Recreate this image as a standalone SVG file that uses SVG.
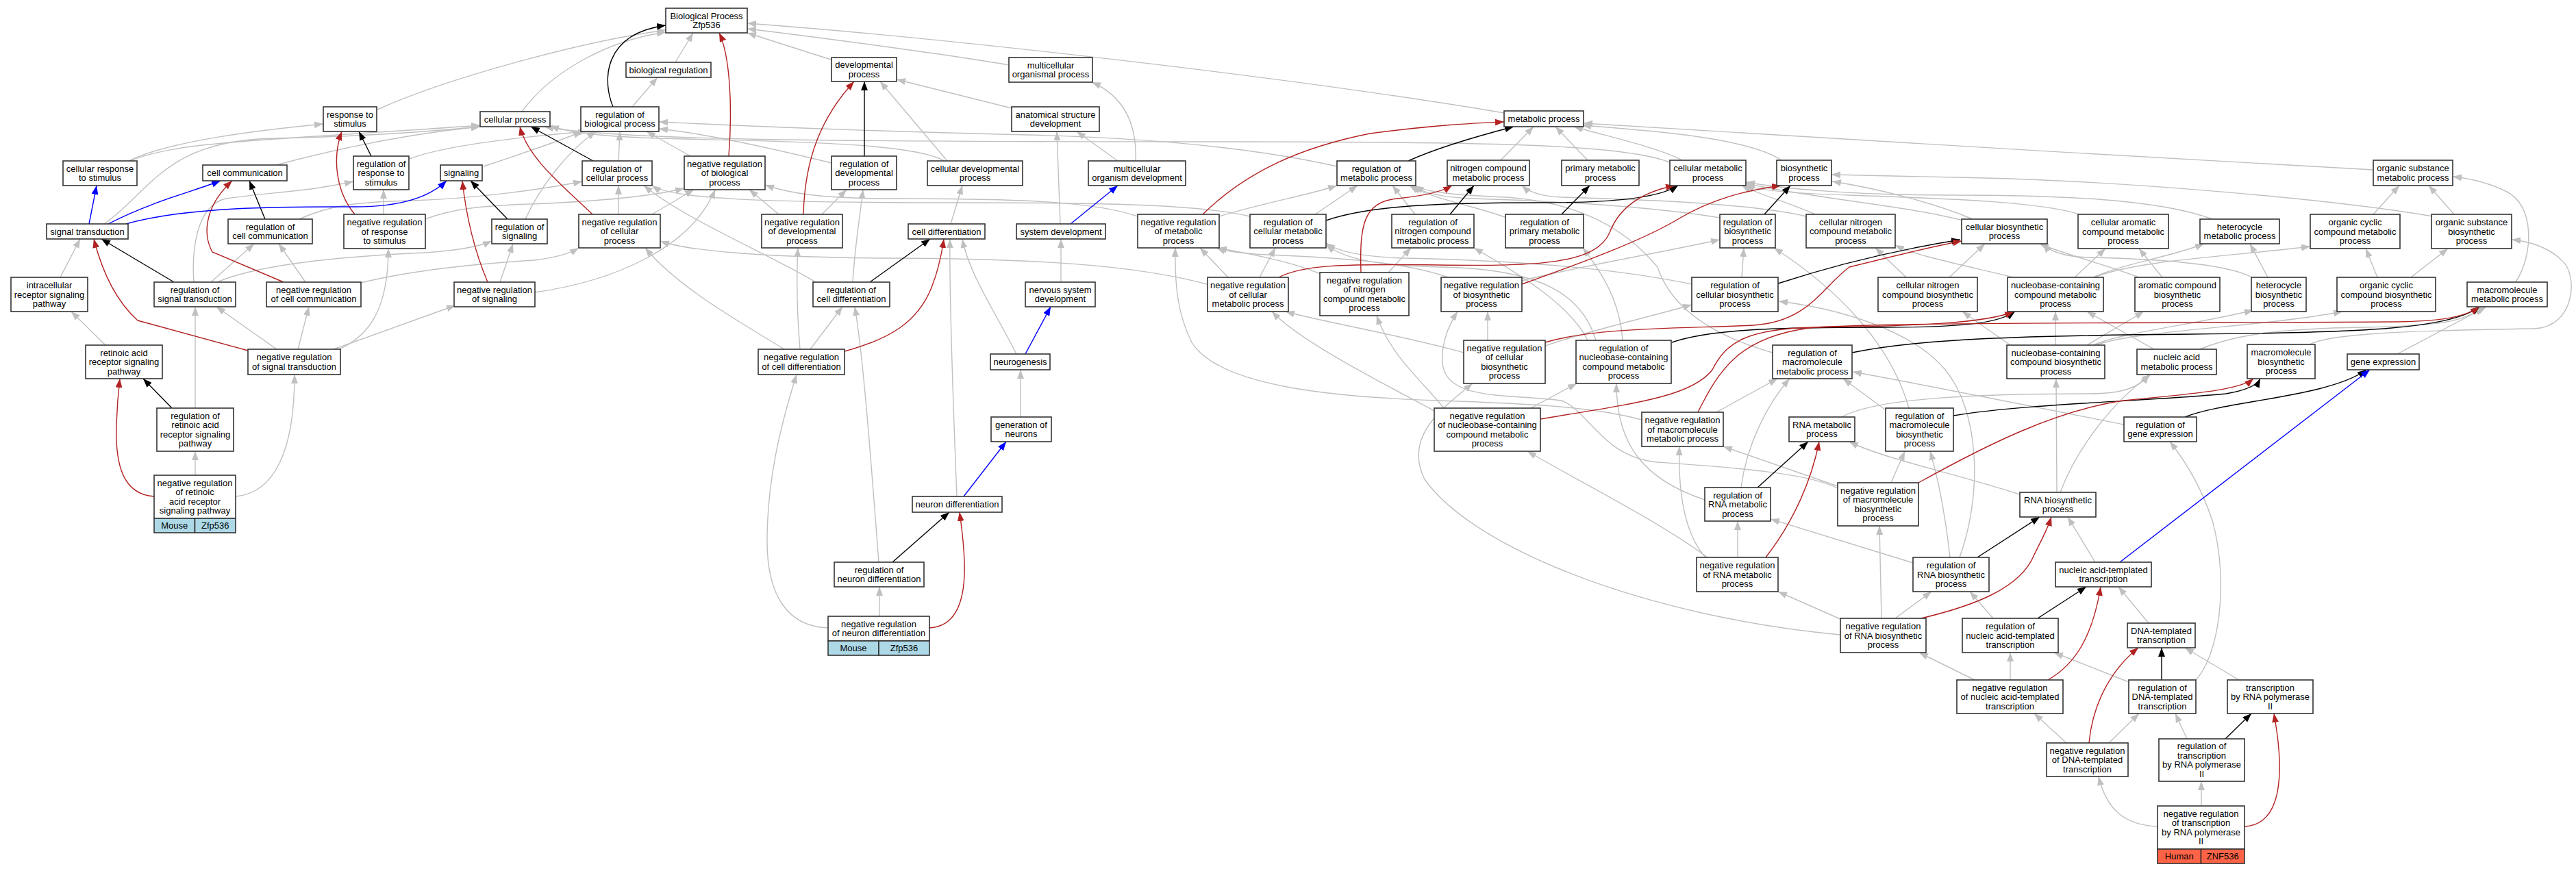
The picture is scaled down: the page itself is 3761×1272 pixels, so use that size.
<svg xmlns="http://www.w3.org/2000/svg" width="3761" height="1272" viewBox="0 0 3761 1272">
<style>
.n{fill:#fff;stroke:#333;stroke-width:1.6}
.m{fill:#add8e6;stroke:#333;stroke-width:1.6}
.h{fill:#ff6347;stroke:#333;stroke-width:1.6}
text{font-family:"Liberation Sans",Arial,Helvetica,sans-serif;font-size:13px;text-anchor:middle;fill:#000}
.e path{fill:none;stroke-width:1.4}
.e .g{stroke:#c0c0c0;marker-end:url(#ag)}
.e .k{stroke:#000;marker-end:url(#ak)}
.e .r{stroke:#b22222;marker-end:url(#ar)}
.e .b{stroke:#0000ff;marker-end:url(#ab)}
</style>
<defs>
<marker id="ag" viewBox="0 0 13 10" refX="13" refY="5" markerWidth="13" markerHeight="10" markerUnits="userSpaceOnUse" orient="auto"><path d="M0,0L13,5L0,10z" fill="#c0c0c0"/></marker>
<marker id="ak" viewBox="0 0 13 10" refX="13" refY="5" markerWidth="13" markerHeight="10" markerUnits="userSpaceOnUse" orient="auto"><path d="M0,0L13,5L0,10z" fill="#000"/></marker>
<marker id="ar" viewBox="0 0 13 10" refX="13" refY="5" markerWidth="13" markerHeight="10" markerUnits="userSpaceOnUse" orient="auto"><path d="M0,0L13,5L0,10z" fill="#b22222"/></marker>
<marker id="ab" viewBox="0 0 13 10" refX="13" refY="5" markerWidth="13" markerHeight="10" markerUnits="userSpaceOnUse" orient="auto"><path d="M0,0L13,5L0,10z" fill="#0000ff"/></marker>
</defs>
<rect x="0" y="0" width="3761" height="1272" fill="#fff"/>
<g id="edges" class="e">
<path class="g" d="M986,91 L1012,48"/>
<path class="g" d="M1213,87 L1091,48"/>
<path class="g" d="M1473,95 C1400,82 1200,55 1091,42"/>
<path class="g" d="M2196,165 C1900,115 1400,57 1091,34"/>
<path class="g" d="M551,160 C650,115 850,60 972,44"/>
<path class="g" d="M762,163 C800,110 880,60 972,47"/>
<path class="g" d="M923,156 L960,113"/>
<path class="g" d="M706,243 C760,225 820,205 850,192"/>
<path class="g" d="M903,235 L905,192"/>
<path class="g" d="M1008,228 L944,192"/>
<path class="g" d="M903,313 L903,271"/>
<path class="g" d="M952,313 L1013,277"/>
<path class="g" d="M1137,313 L1094,277"/>
<path class="g" d="M1200,313 L1236,277"/>
<path class="g" d="M1214,238 C1120,215 1030,195 962,188"/>
<path class="g" d="M1383,235 L1285,119"/>
<path class="g" d="M1379,235 C1340,212 1200,207 1000,203 C900,201 840,196 803,184"/>
<path class="g" d="M188,235 C250,205 380,190 472,181"/>
<path class="g" d="M190,235 C260,205 400,205 701,183"/>
<path class="g" d="M152,327 C220,280 240,205 400,202 C550,199 650,190 701,185"/>
<path class="g" d="M403,241 C500,215 600,195 701,185"/>
<path class="g" d="M598,232 C650,212 760,200 857,192"/>
<path class="g" d="M437,320 C480,300 520,295 600,293 C700,290 800,275 850,265"/>
<path class="g" d="M560,313 L560,277"/>
<path class="g" d="M621,320 C660,305 700,300 800,297 C900,292 960,285 999,275"/>
<path class="g" d="M446,412 L407,356"/>
<path class="g" d="M527,413 C600,395 700,385 780,380 C820,375 835,368 845,362"/>
<path class="g" d="M308,412 L371,356"/>
<path class="g" d="M283,412 C280,370 285,300 330,290 C400,280 450,280 516,265"/>
<path class="g" d="M317,412 C380,385 500,375 600,370 C660,368 700,360 718,352"/>
<path class="g" d="M404,510 L316,448"/>
<path class="g" d="M435,510 L451,448"/>
<path class="g" d="M487,510 L665,446"/>
<path class="g" d="M495,510 C540,490 567,450 567,363"/>
<path class="g" d="M730,412 L749,356"/>
<path class="g" d="M781,427 C900,410 1010,360 1044,277"/>
<path class="g" d="M767,320 C790,270 830,220 870,192"/>
<path class="g" d="M88,405 L117,349"/>
<path class="g" d="M154,504 L104,455"/>
<path class="g" d="M285,596 L285,448"/>
<path class="g" d="M285,694 L285,659"/>
<path class="g" d="M344,725 C400,720 430,660 430,547"/>
<path class="g" d="M1245,412 C1248,360 1255,320 1260,277"/>
<path class="g" d="M1191,412 C1120,370 1000,320 940,271"/>
<path class="g" d="M1183,510 L1230,448"/>
<path class="g" d="M1168,510 C1163,450 1163,400 1165,362"/>
<path class="g" d="M1145,510 C1080,470 990,420 942,362"/>
<path class="g" d="M1397,725 C1390,550 1386,420 1387,349"/>
<path class="g" d="M1283,821 C1270,650 1260,520 1248,448"/>
<path class="g" d="M1284,900 L1284,857"/>
<path class="g" d="M1209,917 C1150,915 1120,870 1120,790 C1120,700 1140,620 1163,547"/>
<path class="g" d="M1490,609 L1490,540"/>
<path class="g" d="M1484,517 C1450,450 1415,400 1405,349"/>
<path class="g" d="M1549,412 L1549,349"/>
<path class="g" d="M1548,327 L1543,192"/>
<path class="g" d="M1632,235 L1572,192"/>
<path class="g" d="M1658,235 C1660,180 1640,140 1594,120"/>
<path class="g" d="M1477,158 L1309,116"/>
<path class="g" d="M1388,327 L1405,271"/>
<path class="g" d="M2191,234 L2239,185"/>
<path class="g" d="M2318,234 L2271,185"/>
<path class="g" d="M2456,234 C2420,215 2350,200 2298,185"/>
<path class="g" d="M2601,234 C2550,200 2400,190 2310,183"/>
<path class="g" d="M3465,248 C3100,230 2600,195 2312,180"/>
<path class="g" d="M2440,238 C2380,212 2200,207 1800,207 C1200,207 900,205 795,185"/>
<path class="g" d="M1952,243 C1850,220 1700,202 1500,197 C1200,190 1050,182 962,178"/>
<path class="g" d="M1780,316 C1850,295 1910,285 1952,271"/>
<path class="g" d="M1661,316 C1600,295 1500,290 1300,290 C1200,290 1150,282 1117,270"/>
<path class="g" d="M1920,313 L1982,271"/>
<path class="g" d="M1825,316 C1750,298 1600,296 1400,296 C1100,296 980,290 952,271"/>
<path class="g" d="M2066,313 L2033,271"/>
<path class="g" d="M2027,398 L2060,362"/>
<path class="g" d="M1928,400 C1880,380 1820,370 1778,362"/>
<path class="g" d="M1793,405 L1752,362"/>
<path class="g" d="M1839,405 L1862,362"/>
<path class="g" d="M1762,415 C1650,385 1500,378 1300,377 C1100,376 1000,365 964,352"/>
<path class="g" d="M2222,410 C2300,390 2420,370 2511,350"/>
<path class="g" d="M2114,405 C2050,382 1950,376 1850,372 C1810,370 1790,367 1776,362"/>
<path class="g" d="M2511,318 C2400,300 2250,293 2150,290 C2100,288 2075,280 2062,271"/>
<path class="g" d="M2200,318 C2150,300 2090,290 2058,271"/>
<path class="g" d="M2637,316 C2550,295 2350,290 2280,288 C2250,287 2232,280 2222,271"/>
<path class="g" d="M2650,313 C2610,295 2570,285 2543,271"/>
<path class="g" d="M2880,320 C2820,295 2740,275 2675,265"/>
<path class="g" d="M2866,322 C2780,300 2650,290 2549,268"/>
<path class="g" d="M2783,405 L2738,362"/>
<path class="g" d="M2846,405 L2898,356"/>
<path class="g" d="M2940,405 C2880,390 2800,375 2767,358"/>
<path class="g" d="M3029,405 L3074,363"/>
<path class="g" d="M3056,405 C3100,385 3170,375 3218,356"/>
<path class="g" d="M3058,405 C3120,380 3250,375 3373,360"/>
<path class="g" d="M3157,405 L3123,363"/>
<path class="g" d="M3123,405 C3070,385 3010,370 2978,356"/>
<path class="g" d="M3311,405 L3285,356"/>
<path class="g" d="M3288,405 C3250,385 3150,378 3050,376 C3010,375 2990,365 2983,356"/>
<path class="g" d="M3471,405 L3454,363"/>
<path class="g" d="M3520,405 L3574,363"/>
<path class="g" d="M3465,313 L3503,271"/>
<path class="g" d="M3583,313 L3546,271"/>
<path class="g" d="M3552,316 C3400,290 3100,265 2900,260 C2800,258 2720,256 2674,255"/>
<path class="g" d="M3036,313 C2980,295 2850,290 2700,285 C2600,282 2560,276 2549,270"/>
<path class="g" d="M3230,320 C3150,290 3000,285 2850,285 C2700,285 2600,275 2549,266"/>
<path class="g" d="M3673,412 C3700,370 3700,300 3660,280 C3630,265 3600,260 3581,258"/>
<path class="g" d="M3145,510 L3047,455"/>
<path class="g" d="M3212,510 C3260,490 3320,480 3450,478 C3560,476 3600,470 3625,448"/>
<path class="g" d="M3500,517 L3630,448"/>
<path class="g" d="M3372,503 C3400,488 3500,483 3700,480 C3760,478 3765,400 3740,380 C3720,360 3690,352 3667,350"/>
<path class="g" d="M3001,504 L3001,455"/>
<path class="g" d="M3047,504 L3130,455"/>
<path class="g" d="M3056,504 C3100,485 3200,475 3290,453"/>
<path class="g" d="M3060,504 C3120,482 3300,478 3420,455"/>
<path class="g" d="M2935,504 L2865,455"/>
<path class="g" d="M2689,609 C2740,580 2900,575 3050,575 C3100,575 3125,565 3137,547"/>
<path class="g" d="M3008,719 C3030,660 3080,590 3140,547"/>
<path class="g" d="M2949,722 C2850,690 2750,670 2700,645"/>
<path class="g" d="M3003,719 L3002,553"/>
<path class="g" d="M3101,620 C3000,600 2800,560 2705,543"/>
<path class="g" d="M2752,598 L2691,553"/>
<path class="g" d="M2787,596 C2760,500 2680,420 2590,362"/>
<path class="g" d="M2761,705 L2781,659"/>
<path class="g" d="M2683,710 L2516,652"/>
<path class="g" d="M2683,713 C2640,690 2520,682 2420,675 C2340,668 2320,600 2280,585 C2200,575 2110,585 2106,530 C2104,500 2115,475 2128,455"/>
<path class="g" d="M2542,712 C2550,650 2580,590 2613,553"/>
<path class="g" d="M2489,730 C2400,700 2360,650 2360,560"/>
<path class="g" d="M2537,814 L2537,761"/>
<path class="g" d="M2493,814 C2420,760 2300,700 2230,659"/>
<path class="g" d="M2490,814 C2460,780 2450,720 2452,652"/>
<path class="g" d="M2767,903 L2820,864"/>
<path class="g" d="M2747,903 L2744,768"/>
<path class="g" d="M2689,905 L2596,864"/>
<path class="g" d="M2687,927 C2400,900 2150,800 2080,700 C2050,640 2100,600 2150,560"/>
<path class="g" d="M2847,814 C2840,750 2830,700 2818,659"/>
<path class="g" d="M2793,822 L2585,758"/>
<path class="g" d="M2861,814 C2895,720 2890,600 2840,540 C2790,480 2680,450 2597,440"/>
<path class="g" d="M3059,821 L3019,755"/>
<path class="g" d="M2910,903 L2876,864"/>
<path class="g" d="M3137,910 L3093,857"/>
<path class="g" d="M2935,993 L2935,953"/>
<path class="g" d="M2883,993 L2802,953"/>
<path class="g" d="M3108,996 L2999,953"/>
<path class="g" d="M3204,995 C3240,960 3255,850 3230,760 C3210,700 3180,660 3168,645"/>
<path class="g" d="M3269,993 L3190,946"/>
<path class="g" d="M3017,1085 L2970,1042"/>
<path class="g" d="M3079,1085 L3123,1042"/>
<path class="g" d="M3193,1079 L3176,1042"/>
<path class="g" d="M3214,1177 L3214,1141"/>
<path class="g" d="M3150,1207 C3100,1205 3075,1180 3064,1134"/>
<path class="g" d="M2318,497 C2290,440 2200,390 2152,362"/>
<path class="g" d="M2369,497 C2365,440 2340,400 2311,362"/>
<path class="g" d="M2330,497 C2310,430 2250,392 2100,390 C2000,388 1960,375 1936,358"/>
<path class="g" d="M2543,405 L2546,362"/>
<path class="g" d="M2470,415 C2350,390 2200,380 2050,377 C1980,375 1950,365 1936,355"/>
<path class="g" d="M2172,497 L2172,455"/>
<path class="g" d="M2256,505 C2330,480 2420,460 2470,445"/>
<path class="g" d="M2137,515 C2050,490 1930,470 1877,455"/>
<path class="g" d="M2235,596 L2302,560"/>
<path class="g" d="M2108,596 C2080,560 2030,520 2010,461"/>
<path class="g" d="M2094,600 C2020,560 1900,500 1857,455"/>
<path class="g" d="M2506,602 L2595,553"/>
<path class="g" d="M2397,613 C2330,595 2250,590 2100,585 C1950,580 1780,565 1740,500 C1720,460 1715,420 1716,362"/>
<path class="g" d="M2588,515 C2500,490 2440,450 2420,390 C2370,330 2300,295 2200,288 C2120,285 2080,280 2066,271"/>
<path class="k" d="M895,156 C880,120 878,50 972,37"/>
<path class="k" d="M866,235 L775,185"/>
<path class="k" d="M1262,228 L1262,119"/>
<path class="k" d="M542,228 L524,192"/>
<path class="k" d="M387,320 L364,264"/>
<path class="k" d="M741,320 L687,264"/>
<path class="k" d="M254,412 L148,349"/>
<path class="k" d="M251,596 L209,553"/>
<path class="k" d="M1270,412 L1358,349"/>
<path class="k" d="M1303,821 L1386,748"/>
<path class="k" d="M2056,235 C2100,215 2160,198 2210,185"/>
<path class="k" d="M1936,322 C2000,300 2100,296 2250,296 C2350,296 2420,290 2450,271"/>
<path class="k" d="M2117,313 L2152,271"/>
<path class="k" d="M2280,313 L2321,271"/>
<path class="k" d="M2576,313 L2614,271"/>
<path class="k" d="M2596,414 C2700,380 2800,360 2862,350"/>
<path class="k" d="M2441,500 C2500,480 2600,478 2750,478 C2880,478 2920,470 2942,455"/>
<path class="k" d="M2704,515 C2800,495 2950,490 3200,488 C3450,486 3580,480 3620,448"/>
<path class="k" d="M2852,607 C2950,590 3150,585 3250,575 C3280,570 3295,563 3300,553"/>
<path class="k" d="M3190,609 C3250,585 3400,580 3455,540"/>
<path class="k" d="M2566,712 L2640,645"/>
<path class="k" d="M2887,814 L2978,755"/>
<path class="k" d="M2975,903 L3046,857"/>
<path class="k" d="M3156,993 L3156,946"/>
<path class="k" d="M3249,1079 L3287,1042"/>
<path class="r" d="M1064,228 C1070,150 1065,80 1050,48"/>
<path class="r" d="M865,313 C820,270 770,230 759,185"/>
<path class="r" d="M1173,313 C1175,230 1200,170 1247,119"/>
<path class="r" d="M518,313 C490,280 485,230 499,192"/>
<path class="r" d="M414,412 L310,368 C295,340 300,300 339,264"/>
<path class="r" d="M712,412 C690,360 680,310 675,264"/>
<path class="r" d="M362,512 L201,468 C170,440 150,400 137,349"/>
<path class="r" d="M225,725 C180,722 168,680 170,620 C171,590 173,570 175,553"/>
<path class="r" d="M1233,513 C1300,495 1340,470 1360,420 C1370,395 1375,370 1378,349"/>
<path class="r" d="M1357,917 C1395,915 1410,880 1408,820 C1407,790 1404,770 1401,748"/>
<path class="r" d="M1756,313 C1820,250 1900,215 2000,195 C2100,182 2150,180 2196,178"/>
<path class="r" d="M1867,405 C1900,388 1950,385 2100,387 C2250,389 2330,385 2350,340 C2365,300 2400,280 2445,271"/>
<path class="r" d="M1987,398 C1985,330 1990,295 2040,290 C2080,286 2105,280 2120,271"/>
<path class="r" d="M2222,415 C2320,380 2400,350 2450,320 C2500,290 2550,278 2600,271"/>
<path class="r" d="M2256,500 C2330,478 2450,480 2560,475 C2640,470 2660,420 2700,390 C2760,375 2820,360 2864,352"/>
<path class="r" d="M2249,612 C2380,590 2470,580 2500,540 C2520,500 2550,480 2650,478 C2800,476 2900,472 2940,455"/>
<path class="r" d="M2479,602 C2510,540 2540,490 2650,478 C2800,470 3200,472 3500,470 C3570,469 3600,462 3620,448"/>
<path class="r" d="M2801,705 C2900,650 3000,600 3100,585 C3200,575 3270,570 3290,553"/>
<path class="r" d="M2578,814 C2620,760 2645,700 2656,645"/>
<path class="r" d="M2805,903 C2880,885 2950,860 2970,810 C2985,780 2990,770 2995,755"/>
<path class="r" d="M2990,993 C3030,970 3055,930 3067,857"/>
<path class="r" d="M3050,1085 C3055,1030 3080,980 3122,946"/>
<path class="r" d="M3277,1207 C3315,1205 3330,1170 3328,1110 C3327,1080 3323,1060 3320,1042"/>
<path class="b" d="M130,327 L141,271"/>
<path class="b" d="M158,327 C220,295 280,280 322,264"/>
<path class="b" d="M184,327 C280,300 430,302 520,302 C590,302 630,285 652,264"/>
<path class="b" d="M1563,327 L1632,271"/>
<path class="b" d="M1497,517 L1534,448"/>
<path class="b" d="M1407,725 L1469,645"/>
<path class="b" d="M3095,821 L3460,540"/>
</g>
<g id="n01"><rect class="n" x="972" y="12" width="119" height="36"/><text x="1031.5" y="27.75">Biological Process<tspan x="1031.5" dy="13.5">Zfp536</tspan></text></g>
<g id="n02"><rect class="n" x="914" y="91" width="124" height="22"/><text x="976" y="106.5">biological regulation</text></g>
<g id="n03"><rect class="n" x="1214" y="84" width="95" height="35"/><text x="1261.5" y="99.25">developmental<tspan x="1261.5" dy="13.5">process</tspan></text></g>
<g id="n04"><rect class="n" x="1473" y="84" width="122" height="36"/><text x="1534" y="99.75">multicellular<tspan x="1534" dy="13.5">organismal process</tspan></text></g>
<g id="n05"><rect class="n" x="2196" y="162" width="116" height="23"/><text x="2254" y="178">metabolic process</text></g>
<g id="n06"><rect class="n" x="472" y="156" width="78" height="36"/><text x="511" y="171.75">response to<tspan x="511" dy="13.5">stimulus</tspan></text></g>
<g id="n07"><rect class="n" x="701" y="163" width="102" height="22"/><text x="752" y="178.5">cellular process</text></g>
<g id="n08"><rect class="n" x="848" y="156" width="114" height="36"/><text x="905" y="171.75">regulation of<tspan x="905" dy="13.5">biological process</tspan></text></g>
<g id="n09"><rect class="n" x="1477" y="156" width="128" height="36"/><text x="1541" y="171.75">anatomical structure<tspan x="1541" dy="13.5">development</tspan></text></g>
<g id="n10"><rect class="n" x="92" y="235" width="108" height="36"/><text x="146" y="250.75">cellular response<tspan x="146" dy="13.5">to stimulus</tspan></text></g>
<g id="n11"><rect class="n" x="296" y="241" width="123" height="23"/><text x="357.5" y="257">cell communication</text></g>
<g id="n12"><rect class="n" x="516" y="228" width="81" height="49"/><text x="556.5" y="243.5">regulation of<tspan x="556.5" dy="13.5">response to</tspan><tspan x="556.5" dy="13.5">stimulus</tspan></text></g>
<g id="n13"><rect class="n" x="643" y="241" width="61" height="23"/><text x="673.5" y="257">signaling</text></g>
<g id="n14"><rect class="n" x="850" y="235" width="102" height="36"/><text x="901" y="250.75">regulation of<tspan x="901" dy="13.5">cellular process</tspan></text></g>
<g id="n15"><rect class="n" x="999" y="228" width="118" height="49"/><text x="1058" y="243.5">negative regulation<tspan x="1058" dy="13.5">of biological</tspan><tspan x="1058" dy="13.5">process</tspan></text></g>
<g id="n16"><rect class="n" x="1214" y="228" width="95" height="49"/><text x="1261.5" y="243.5">regulation of<tspan x="1261.5" dy="13.5">developmental</tspan><tspan x="1261.5" dy="13.5">process</tspan></text></g>
<g id="n17"><rect class="n" x="1354" y="235" width="139" height="36"/><text x="1423.5" y="250.75">cellular developmental<tspan x="1423.5" dy="13.5">process</tspan></text></g>
<g id="n18"><rect class="n" x="1589" y="235" width="142" height="36"/><text x="1660" y="250.75">multicellular<tspan x="1660" dy="13.5">organism development</tspan></text></g>
<g id="n19"><rect class="n" x="1952" y="235" width="115" height="36"/><text x="2009.5" y="250.75">regulation of<tspan x="2009.5" dy="13.5">metabolic process</tspan></text></g>
<g id="n20"><rect class="n" x="2113" y="234" width="120" height="37"/><text x="2173" y="250.25">nitrogen compound<tspan x="2173" dy="13.5">metabolic process</tspan></text></g>
<g id="n21"><rect class="n" x="2280" y="234" width="113" height="37"/><text x="2336.5" y="250.25">primary metabolic<tspan x="2336.5" dy="13.5">process</tspan></text></g>
<g id="n22"><rect class="n" x="2438" y="234" width="111" height="37"/><text x="2493.5" y="250.25">cellular metabolic<tspan x="2493.5" dy="13.5">process</tspan></text></g>
<g id="n23"><rect class="n" x="2594" y="234" width="80" height="37"/><text x="2634" y="250.25">biosynthetic<tspan x="2634" dy="13.5">process</tspan></text></g>
<g id="n24"><rect class="n" x="3465" y="234" width="116" height="37"/><text x="3523" y="250.25">organic substance<tspan x="3523" dy="13.5">metabolic process</tspan></text></g>
<g id="n25"><rect class="n" x="68" y="327" width="119" height="22"/><text x="127.5" y="342.5">signal transduction</text></g>
<g id="n26"><rect class="n" x="333" y="320" width="123" height="36"/><text x="394.5" y="335.75">regulation of<tspan x="394.5" dy="13.5">cell communication</tspan></text></g>
<g id="n27"><rect class="n" x="502" y="313" width="119" height="50"/><text x="561.5" y="329">negative regulation<tspan x="561.5" dy="13.5">of response</tspan><tspan x="561.5" dy="13.5">to stimulus</tspan></text></g>
<g id="n28"><rect class="n" x="718" y="320" width="81" height="36"/><text x="758.5" y="335.75">regulation of<tspan x="758.5" dy="13.5">signaling</tspan></text></g>
<g id="n29"><rect class="n" x="845" y="313" width="119" height="49"/><text x="904.5" y="328.5">negative regulation<tspan x="904.5" dy="13.5">of cellular</tspan><tspan x="904.5" dy="13.5">process</tspan></text></g>
<g id="n30"><rect class="n" x="1112" y="313" width="118" height="49"/><text x="1171" y="328.5">negative regulation<tspan x="1171" dy="13.5">of developmental</tspan><tspan x="1171" dy="13.5">process</tspan></text></g>
<g id="n31"><rect class="n" x="1326" y="327" width="112" height="22"/><text x="1382" y="342.5">cell differentiation</text></g>
<g id="n32"><rect class="n" x="1484" y="327" width="130" height="22"/><text x="1549" y="342.5">system development</text></g>
<g id="n33"><rect class="n" x="1661" y="313" width="119" height="49"/><text x="1720.5" y="328.5">negative regulation<tspan x="1720.5" dy="13.5">of metabolic</tspan><tspan x="1720.5" dy="13.5">process</tspan></text></g>
<g id="n34"><rect class="n" x="1825" y="313" width="111" height="49"/><text x="1880.5" y="328.5">regulation of<tspan x="1880.5" dy="13.5">cellular metabolic</tspan><tspan x="1880.5" dy="13.5">process</tspan></text></g>
<g id="n35"><rect class="n" x="2032" y="313" width="120" height="49"/><text x="2092" y="328.5">regulation of<tspan x="2092" dy="13.5">nitrogen compound</tspan><tspan x="2092" dy="13.5">metabolic process</tspan></text></g>
<g id="n36"><rect class="n" x="2198" y="313" width="114" height="49"/><text x="2255" y="328.5">regulation of<tspan x="2255" dy="13.5">primary metabolic</tspan><tspan x="2255" dy="13.5">process</tspan></text></g>
<g id="n37"><rect class="n" x="2511" y="313" width="81" height="49"/><text x="2551.5" y="328.5">regulation of<tspan x="2551.5" dy="13.5">biosynthetic</tspan><tspan x="2551.5" dy="13.5">process</tspan></text></g>
<g id="n38"><rect class="n" x="2637" y="313" width="130" height="49"/><text x="2702" y="328.5">cellular nitrogen<tspan x="2702" dy="13.5">compound metabolic</tspan><tspan x="2702" dy="13.5">process</tspan></text></g>
<g id="n39"><rect class="n" x="2864" y="320" width="125" height="36"/><text x="2926.5" y="335.75">cellular biosynthetic<tspan x="2926.5" dy="13.5">process</tspan></text></g>
<g id="n40"><rect class="n" x="3034" y="313" width="132" height="50"/><text x="3100" y="329">cellular aromatic<tspan x="3100" dy="13.5">compound metabolic</tspan><tspan x="3100" dy="13.5">process</tspan></text></g>
<g id="n41"><rect class="n" x="3212" y="320" width="116" height="36"/><text x="3270" y="335.75">heterocycle<tspan x="3270" dy="13.5">metabolic process</tspan></text></g>
<g id="n42"><rect class="n" x="3373" y="313" width="131" height="50"/><text x="3438.5" y="329">organic cyclic<tspan x="3438.5" dy="13.5">compound metabolic</tspan><tspan x="3438.5" dy="13.5">process</tspan></text></g>
<g id="n43"><rect class="n" x="3550" y="313" width="117" height="50"/><text x="3608.5" y="329">organic substance<tspan x="3608.5" dy="13.5">biosynthetic</tspan><tspan x="3608.5" dy="13.5">process</tspan></text></g>
<g id="n44"><rect class="n" x="16" y="405" width="112" height="50"/><text x="72" y="421">intracellular<tspan x="72" dy="13.5">receptor signaling</tspan><tspan x="72" dy="13.5">pathway</tspan></text></g>
<g id="n45"><rect class="n" x="225" y="412" width="119" height="36"/><text x="284.5" y="427.75">regulation of<tspan x="284.5" dy="13.5">signal transduction</tspan></text></g>
<g id="n46"><rect class="n" x="389" y="412" width="138" height="36"/><text x="458" y="427.75">negative regulation<tspan x="458" dy="13.5">of cell communication</tspan></text></g>
<g id="n47"><rect class="n" x="663" y="412" width="118" height="36"/><text x="722" y="427.75">negative regulation<tspan x="722" dy="13.5">of signaling</tspan></text></g>
<g id="n48"><rect class="n" x="1187" y="412" width="112" height="36"/><text x="1243" y="427.75">regulation of<tspan x="1243" dy="13.5">cell differentiation</tspan></text></g>
<g id="n49"><rect class="n" x="1497" y="412" width="102" height="36"/><text x="1548" y="427.75">nervous system<tspan x="1548" dy="13.5">development</tspan></text></g>
<g id="n50"><rect class="n" x="1763" y="405" width="118" height="50"/><text x="1822" y="421">negative regulation<tspan x="1822" dy="13.5">of cellular</tspan><tspan x="1822" dy="13.5">metabolic process</tspan></text></g>
<g id="n51"><rect class="n" x="1927" y="398" width="130" height="63"/><text x="1992" y="413.75">negative regulation<tspan x="1992" dy="13.5">of nitrogen</tspan><tspan x="1992" dy="13.5">compound metabolic</tspan><tspan x="1992" dy="13.5">process</tspan></text></g>
<g id="n52"><rect class="n" x="2104" y="405" width="118" height="50"/><text x="2163" y="421">negative regulation<tspan x="2163" dy="13.5">of biosynthetic</tspan><tspan x="2163" dy="13.5">process</tspan></text></g>
<g id="n53"><rect class="n" x="2470" y="405" width="126" height="50"/><text x="2533" y="421">regulation of<tspan x="2533" dy="13.5">cellular biosynthetic</tspan><tspan x="2533" dy="13.5">process</tspan></text></g>
<g id="n54"><rect class="n" x="2742" y="405" width="145" height="50"/><text x="2814.5" y="421">cellular nitrogen<tspan x="2814.5" dy="13.5">compound biosynthetic</tspan><tspan x="2814.5" dy="13.5">process</tspan></text></g>
<g id="n55"><rect class="n" x="2931" y="405" width="140" height="50"/><text x="3001" y="421">nucleobase-containing<tspan x="3001" dy="13.5">compound metabolic</tspan><tspan x="3001" dy="13.5">process</tspan></text></g>
<g id="n56"><rect class="n" x="3117" y="405" width="124" height="50"/><text x="3179" y="421">aromatic compound<tspan x="3179" dy="13.5">biosynthetic</tspan><tspan x="3179" dy="13.5">process</tspan></text></g>
<g id="n57"><rect class="n" x="3287" y="405" width="80" height="50"/><text x="3327" y="421">heterocycle<tspan x="3327" dy="13.5">biosynthetic</tspan><tspan x="3327" dy="13.5">process</tspan></text></g>
<g id="n58"><rect class="n" x="3412" y="405" width="144" height="50"/><text x="3484" y="421">organic cyclic<tspan x="3484" dy="13.5">compound biosynthetic</tspan><tspan x="3484" dy="13.5">process</tspan></text></g>
<g id="n59"><rect class="n" x="3602" y="412" width="117" height="36"/><text x="3660.5" y="427.75">macromolecule<tspan x="3660.5" dy="13.5">metabolic process</tspan></text></g>
<g id="n60"><rect class="n" x="125" y="504" width="112" height="49"/><text x="181" y="519.5">retinoic acid<tspan x="181" dy="13.5">receptor signaling</tspan><tspan x="181" dy="13.5">pathway</tspan></text></g>
<g id="n61"><rect class="n" x="362" y="510" width="135" height="37"/><text x="429.5" y="526.25">negative regulation<tspan x="429.5" dy="13.5">of signal transduction</tspan></text></g>
<g id="n62"><rect class="n" x="1107" y="510" width="126" height="37"/><text x="1170" y="526.25">negative regulation<tspan x="1170" dy="13.5">of cell differentiation</tspan></text></g>
<g id="n63"><rect class="n" x="1446" y="517" width="87" height="23"/><text x="1489.5" y="533">neurogenesis</text></g>
<g id="n64"><rect class="n" x="2137" y="497" width="119" height="63"/><text x="2196.5" y="512.75">negative regulation<tspan x="2196.5" dy="13.5">of cellular</tspan><tspan x="2196.5" dy="13.5">biosynthetic</tspan><tspan x="2196.5" dy="13.5">process</tspan></text></g>
<g id="n65"><rect class="n" x="2301" y="497" width="139" height="63"/><text x="2370.5" y="512.75">regulation of<tspan x="2370.5" dy="13.5">nucleobase-containing</tspan><tspan x="2370.5" dy="13.5">compound metabolic</tspan><tspan x="2370.5" dy="13.5">process</tspan></text></g>
<g id="n66"><rect class="n" x="2588" y="504" width="116" height="49"/><text x="2646" y="519.5">regulation of<tspan x="2646" dy="13.5">macromolecule</tspan><tspan x="2646" dy="13.5">metabolic process</tspan></text></g>
<g id="n67"><rect class="n" x="2930" y="504" width="143" height="49"/><text x="3001.5" y="519.5">nucleobase-containing<tspan x="3001.5" dy="13.5">compound biosynthetic</tspan><tspan x="3001.5" dy="13.5">process</tspan></text></g>
<g id="n68"><rect class="n" x="3120" y="510" width="116" height="37"/><text x="3178" y="526.25">nucleic acid<tspan x="3178" dy="13.5">metabolic process</tspan></text></g>
<g id="n69"><rect class="n" x="3281" y="503" width="99" height="50"/><text x="3330.5" y="519">macromolecule<tspan x="3330.5" dy="13.5">biosynthetic</tspan><tspan x="3330.5" dy="13.5">process</tspan></text></g>
<g id="n70"><rect class="n" x="3427" y="517" width="105" height="23"/><text x="3479.5" y="533">gene expression</text></g>
<g id="n71"><rect class="n" x="229" y="596" width="112" height="63"/><text x="285" y="611.75">regulation of<tspan x="285" dy="13.5">retinoic acid</tspan><tspan x="285" dy="13.5">receptor signaling</tspan><tspan x="285" dy="13.5">pathway</tspan></text></g>
<g id="n72"><rect class="n" x="1447" y="609" width="88" height="36"/><text x="1491" y="624.75">generation of<tspan x="1491" dy="13.5">neurons</tspan></text></g>
<g id="n73"><rect class="n" x="2094" y="596" width="155" height="63"/><text x="2171.5" y="611.75">negative regulation<tspan x="2171.5" dy="13.5">of nucleobase-containing</tspan><tspan x="2171.5" dy="13.5">compound metabolic</tspan><tspan x="2171.5" dy="13.5">process</tspan></text></g>
<g id="n74"><rect class="n" x="2397" y="602" width="119" height="50"/><text x="2456.5" y="618">negative regulation<tspan x="2456.5" dy="13.5">of macromolecule</tspan><tspan x="2456.5" dy="13.5">metabolic process</tspan></text></g>
<g id="n75"><rect class="n" x="2612" y="609" width="96" height="36"/><text x="2660" y="624.75">RNA metabolic<tspan x="2660" dy="13.5">process</tspan></text></g>
<g id="n76"><rect class="n" x="2753" y="596" width="99" height="63"/><text x="2802.5" y="611.75">regulation of<tspan x="2802.5" dy="13.5">macromolecule</tspan><tspan x="2802.5" dy="13.5">biosynthetic</tspan><tspan x="2802.5" dy="13.5">process</tspan></text></g>
<g id="n77"><rect class="n" x="3101" y="609" width="106" height="36"/><text x="3154" y="624.75">regulation of<tspan x="3154" dy="13.5">gene expression</tspan></text></g>
<g id="n78"><rect class="n" x="225" y="694" width="119" height="63"/><text x="284.5" y="709.75">negative regulation<tspan x="284.5" dy="13.5">of retinoic</tspan><tspan x="284.5" dy="13.5">acid receptor</tspan><tspan x="284.5" dy="13.5">signaling pathway</tspan></text><rect class="m" x="225" y="757" width="59.5" height="21"/><rect class="m" x="284.5" y="757" width="59.5" height="21"/><text x="254.75" y="772">Mouse</text><text x="314.25" y="772">Zfp536</text></g>
<g id="n79"><rect class="n" x="1332" y="725" width="131" height="23"/><text x="1397.5" y="741">neuron differentiation</text></g>
<g id="n80"><rect class="n" x="2489" y="712" width="96" height="49"/><text x="2537" y="727.5">regulation of<tspan x="2537" dy="13.5">RNA metabolic</tspan><tspan x="2537" dy="13.5">process</tspan></text></g>
<g id="n81"><rect class="n" x="2683" y="705" width="118" height="63"/><text x="2742" y="720.75">negative regulation<tspan x="2742" dy="13.5">of macromolecule</tspan><tspan x="2742" dy="13.5">biosynthetic</tspan><tspan x="2742" dy="13.5">process</tspan></text></g>
<g id="n82"><rect class="n" x="2949" y="719" width="111" height="36"/><text x="3004.5" y="734.75">RNA biosynthetic<tspan x="3004.5" dy="13.5">process</tspan></text></g>
<g id="n83"><rect class="n" x="1218" y="821" width="131" height="36"/><text x="1283.5" y="836.75">regulation of<tspan x="1283.5" dy="13.5">neuron differentiation</tspan></text></g>
<g id="n84"><rect class="n" x="2477" y="814" width="119" height="50"/><text x="2536.5" y="830">negative regulation<tspan x="2536.5" dy="13.5">of RNA metabolic</tspan><tspan x="2536.5" dy="13.5">process</tspan></text></g>
<g id="n85"><rect class="n" x="2793" y="814" width="111" height="50"/><text x="2848.5" y="830">regulation of<tspan x="2848.5" dy="13.5">RNA biosynthetic</tspan><tspan x="2848.5" dy="13.5">process</tspan></text></g>
<g id="n86"><rect class="n" x="3001" y="821" width="140" height="36"/><text x="3071" y="836.75">nucleic acid-templated<tspan x="3071" dy="13.5">transcription</tspan></text></g>
<g id="n87"><rect class="n" x="2687" y="903" width="125" height="50"/><text x="2749.5" y="919">negative regulation<tspan x="2749.5" dy="13.5">of RNA biosynthetic</tspan><tspan x="2749.5" dy="13.5">process</tspan></text></g>
<g id="n88"><rect class="n" x="2865" y="903" width="140" height="50"/><text x="2935" y="919">regulation of<tspan x="2935" dy="13.5">nucleic acid-templated</tspan><tspan x="2935" dy="13.5">transcription</tspan></text></g>
<g id="n89"><rect class="n" x="3106" y="910" width="99" height="36"/><text x="3155.5" y="925.75">DNA-templated<tspan x="3155.5" dy="13.5">transcription</tspan></text></g>
<g id="n90"><rect class="n" x="1209" y="900" width="148" height="36"/><text x="1283" y="915.75">negative regulation<tspan x="1283" dy="13.5">of neuron differentiation</tspan></text><rect class="m" x="1209" y="936" width="74" height="21"/><rect class="m" x="1283" y="936" width="74" height="21"/><text x="1246" y="951">Mouse</text><text x="1320" y="951">Zfp536</text></g>
<g id="n91"><rect class="n" x="2857" y="993" width="155" height="49"/><text x="2934.5" y="1008.5">negative regulation<tspan x="2934.5" dy="13.5">of nucleic acid-templated</tspan><tspan x="2934.5" dy="13.5">transcription</tspan></text></g>
<g id="n92"><rect class="n" x="3108" y="993" width="98" height="49"/><text x="3157" y="1008.5">regulation of<tspan x="3157" dy="13.5">DNA-templated</tspan><tspan x="3157" dy="13.5">transcription</tspan></text></g>
<g id="n93"><rect class="n" x="3252" y="993" width="125" height="49"/><text x="3314.5" y="1008.5">transcription<tspan x="3314.5" dy="13.5">by RNA polymerase</tspan><tspan x="3314.5" dy="13.5">II</tspan></text></g>
<g id="n94"><rect class="n" x="2988" y="1085" width="119" height="49"/><text x="3047.5" y="1100.5">negative regulation<tspan x="3047.5" dy="13.5">of DNA-templated</tspan><tspan x="3047.5" dy="13.5">transcription</tspan></text></g>
<g id="n95"><rect class="n" x="3152" y="1079" width="125" height="62"/><text x="3214.5" y="1094.25">regulation of<tspan x="3214.5" dy="13.5">transcription</tspan><tspan x="3214.5" dy="13.5">by RNA polymerase</tspan><tspan x="3214.5" dy="13.5">II</tspan></text></g>
<g id="n96"><rect class="n" x="3150" y="1177" width="127" height="63"/><text x="3213.5" y="1192.75">negative regulation<tspan x="3213.5" dy="13.5">of transcription</tspan><tspan x="3213.5" dy="13.5">by RNA polymerase</tspan><tspan x="3213.5" dy="13.5">II</tspan></text><rect class="h" x="3150" y="1240" width="63.5" height="21"/><rect class="h" x="3213.5" y="1240" width="63.5" height="21"/><text x="3181.75" y="1255">Human</text><text x="3245.25" y="1255">ZNF536</text></g>
</svg>
